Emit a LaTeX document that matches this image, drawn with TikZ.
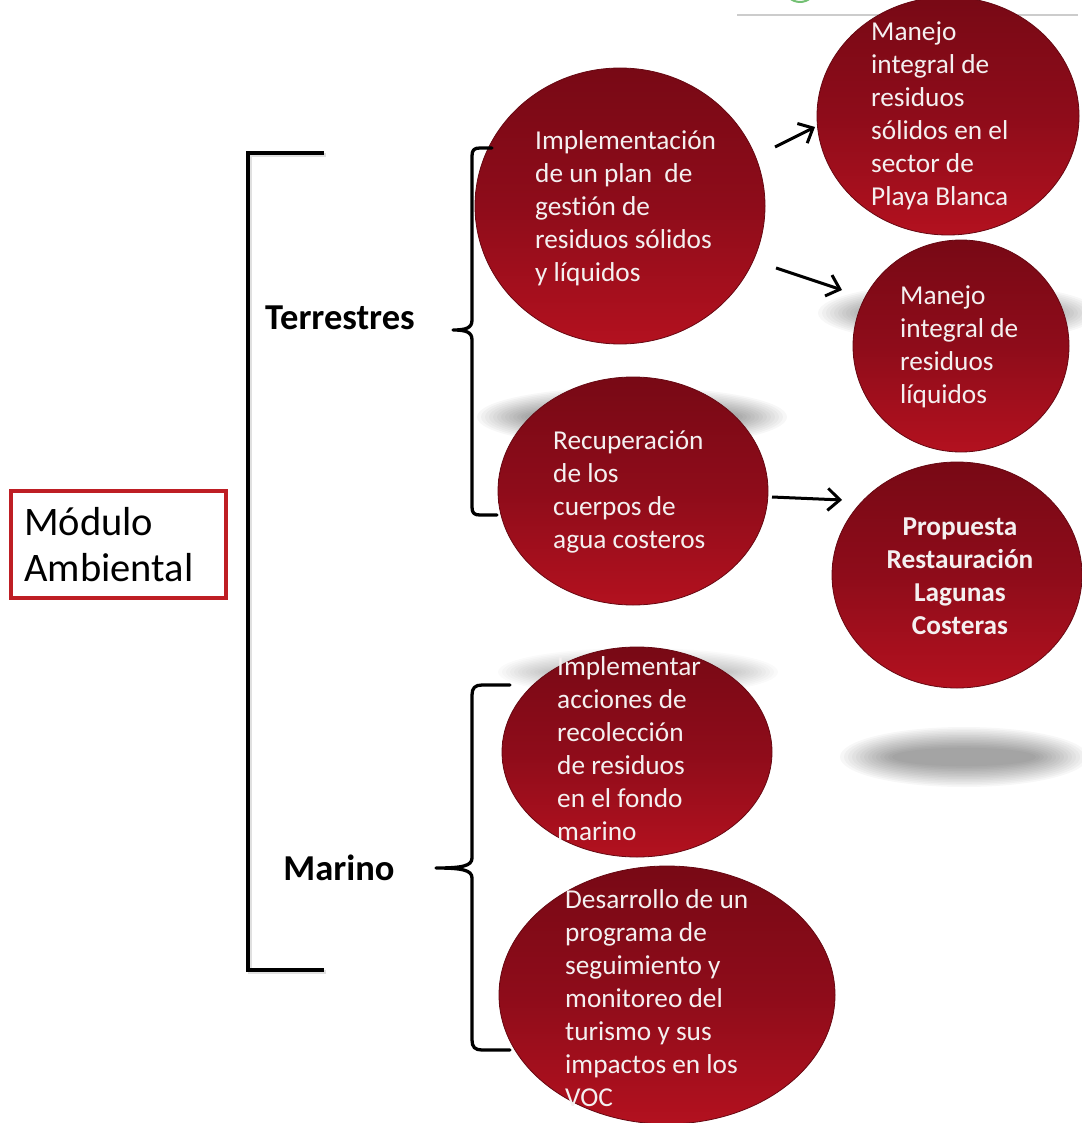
\documentclass[tikz,border=0pt]{standalone}
\usepackage{fontspec}
\setmainfont{Carlito}[Ligatures=NoCommon]
\usetikzlibrary{shapes.geometric,arrows.meta}
\definecolor{boxred}{HTML}{BE1E24}
\definecolor{redtop}{HTML}{780915}
\definecolor{redmid}{HTML}{8E0C1A}
\definecolor{redbot}{HTML}{B3111F}
\definecolor{txtw}{HTML}{F4F0F0}
\newcommand{\softshadow}[5]{%
  \foreach \k in {0,...,13}{%
    \fill[black, opacity=#5] (#1,#2) ellipse [x radius={#3-\k*4}, y radius={#4-\k*1.6}];
  }%
}
\tikzset{
  bubble/.style={ellipse, inner sep=0pt, top color=redtop, bottom color=redbot, middle color=redmid, draw=redtop!85!black, line width=0.8pt},
  btext/.style={text=txtw, align=left, anchor=west, inner sep=0pt, font=\fontsize{27.3}{33}\selectfont},
  bracketline/.style={line width=4pt, black},
  bracestyle/.style={line width=3.3pt, black, line cap=round, line join=round},
  linkarrow/.style={line width=3pt, black, -{Straight Barb[length=12pt,width=22pt,line width=3pt]}},
  headtext/.style={font=\fontsize{36.5}{42}\selectfont\bfseries, inner sep=0pt}
}
\begin{document}
\begin{tikzpicture}[x=1pt,y=-1pt]
\useasboundingbox (0,0) rectangle (1081,1123);
% top-right fragment
\draw[black!20, line width=1.5pt] (737,15) -- (1078,15);
\begin{scope}
\clip (775,0) rectangle (825,2.5);
\draw[green!55!black!55, line width=2pt] (800,-14) circle (16);
\end{scope}
% soft shadows
\softshadow{958}{313}{140}{30}{0.033}
\softshadow{632}{417}{155}{30}{0.033}
\softshadow{964}{757}{124}{30}{0.033}
\softshadow{638}{672}{140}{24}{0.018}
% module box
\node[draw=boxred, line width=4pt, minimum width=215pt, minimum height=107pt, inner sep=0pt] (box) at (118.5,544.5) {};
\node[anchor=west, align=left, inner sep=0pt, font=\fontsize{40.5}{46}\selectfont] (boxtext) at (24,545) {Módulo\\Ambiental};
% main bracket
\draw[black!12, line width=4pt] (326,155) -- (250,155) -- (250,972) -- (326,972);
\draw[bracketline] (324,153) -- (248,153) -- (248,970) -- (324,970);
% headings
\node[headtext] (terr) at (340,318) {Terrestres};
\node[headtext] (mar) at (339,868) {Marino};
% bubbles
\node[bubble, minimum width=290pt, minimum height=276pt] (e1) at (620,206) {};
\node[bubble, minimum width=262pt, minimum height=238pt] (e2) at (948,116) {};
\node[bubble, minimum width=216pt, minimum height=212pt] (e3) at (961,346) {};
\node[bubble, minimum width=270pt, minimum height=228pt] (e4) at (633,491) {};
\node[bubble, minimum width=250pt, minimum height=226pt] (e5) at (957,575) {};
\node[bubble, minimum width=270pt, minimum height=210pt] (e6) at (637,752) {};
\node[bubble, minimum width=336pt, minimum height=258pt] (e7) at (667,995) {};
% bubble texts
\node[btext] (t1) at (535,208) {Implementación\\de un plan~~de\\gestión de\\residuos sólidos\\y líquidos};
\node[btext] (t2) at (871,116) {Manejo\\integral de\\residuos\\sólidos en el\\sector de\\Playa Blanca};
\node[btext] (t3) at (900,347) {Manejo\\integral de\\residuos\\líquidos};
\node[btext] (t4) at (553,492) {Recuperación\\de los\\cuerpos de\\agua costeros};
\node[btext, align=center, anchor=center, font=\fontsize{27.3}{33}\selectfont\bfseries] (t5) at (960,576) {Propuesta\\Restauración\\Lagunas\\Costeras};
\node[btext] (t6) at (557,749) {Implementar\\acciones de\\recolección\\de residuos\\en el fondo\\marino};
\node[btext] (t7) at (565,998) {Desarrollo de un\\programa de\\seguimiento y\\monitoreo del\\turismo y sus\\impactos en los\\VOC};
% braces
\draw[bracestyle] (492,148) -- (480,148) .. controls (474,148) and (472,150) .. (472,156)
  -- (472,320) .. controls (472,328) and (466,330) .. (453,330)
  .. controls (466,330) and (472,332) .. (472,340)
  -- (472,507) .. controls (472,513) and (474,515) .. (480,515) -- (497,515);
\draw[bracestyle] (510,685) -- (482,685) .. controls (475,685) and (472,688) .. (472,695)
  -- (472,858) .. controls (472,866) and (462,868) .. (436,868)
  .. controls (462,868) and (472,870) .. (472,878)
  -- (472,1040) .. controls (472,1047) and (475,1050) .. (482,1050) -- (510,1050);
% arrows
\coordinate (a1s) at (775,147);
\coordinate (a1e) at (815,127);
\coordinate (a2s) at (776,268);
\coordinate (a2e) at (842,290);
\coordinate (a3s) at (772,497);
\coordinate (a3e) at (842,500);
\draw[linkarrow] (a1s) -- (a1e);
\draw[linkarrow] (a2s) -- (a2e);
\draw[linkarrow] (a3s) -- (a3e);
\end{tikzpicture}
\end{document}
